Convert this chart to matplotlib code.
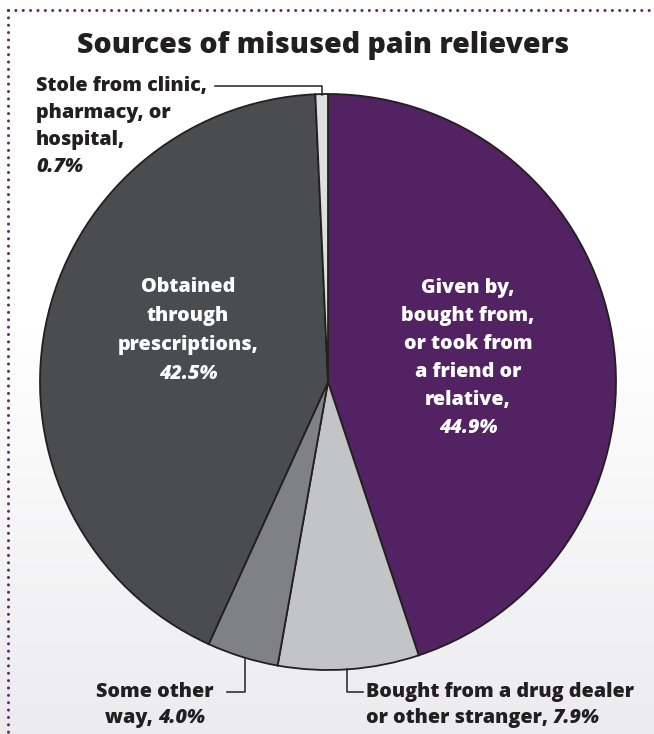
import numpy as np
import matplotlib
matplotlib.use("Agg")
import matplotlib.pyplot as plt

# data, clockwise from 12 o'clock
sources = ["Given by, bought from, or took from a friend or relative",
           "Bought from a drug dealer or other stranger",
           "Some other way",
           "Obtained through prescriptions",
           "Stole from clinic, pharmacy, or hospital"]
shares = [44.9, 7.9, 4.0, 42.5, 0.7]
slice_colors = ["#532262", "#c3c4c6", "#808184", "#4b4c4e", "#dedfe1"]
title = "Sources of misused pain relievers"

W, H = 654, 734
FONT = "Open Sans"
WEIGHT = 800
TXT = "#231f20"

fig = plt.figure(figsize=(W / 100, H / 100), dpi=100)
ax = fig.add_axes([0, 0, 1, 1])
ax.set_xlim(0, W)
ax.set_ylim(0, H)
ax.set_aspect("equal")
ax.axis("off")


def Y(y):
    # image pixel row -> data y
    return H - y


# background: white fading to light grey at bottom
grad = np.linspace(0, 1, 256).reshape(-1, 1)
grad = np.clip((grad - 0.45) / 0.55, 0, 1)
top = np.array([1.0, 1.0, 1.0])
bot = np.array([0.925, 0.925, 0.935])
img = top + (bot - top) * grad[..., None]
ax.imshow(img, extent=[0, W, 0, H], origin="upper", aspect="auto", zorder=0)

# dotted frame (top and left)
dot = dict(color="#5b2b6c", linewidth=2.2, linestyle=(0, (0.01, 2.4)),
           dash_capstyle="round", zorder=1)
ax.plot([8, W], [Y(10), Y(10)], **dot)
ax.plot([8, 8], [Y(10), 0], **dot)

# pie
cx, cy, r = 328, 382, 288
ax.pie(shares, colors=slice_colors, startangle=90, counterclock=False,
       center=(cx, Y(cy)), radius=r, frame=True,
       wedgeprops=dict(edgecolor=TXT, linewidth=1.3))
ax.set_xlim(0, W)
ax.set_ylim(0, H)
ax.axis("off")

ax.text(cx - 5, Y(45), title, ha="center", va="center", fontsize=20.5,
        fontweight=WEIGHT, family=FONT, color=TXT)

fig.canvas.draw()
renderer = fig.canvas.get_renderer()


def width_of(s, size, italic):
    t = ax.text(0, 0, s, fontsize=size, fontweight=WEIGHT, family=FONT,
                style="italic" if italic else "normal")
    w = t.get_window_extent(renderer).width
    t.remove()
    return w


def line(x, y, parts, size, color, ha="left"):
    widths = [width_of(s, size, it) for s, it in parts]
    total = sum(widths)
    if ha == "center":
        x0 = x - total / 2
    elif ha == "right":
        x0 = x - total
    else:
        x0 = x
    for (s, it), w in zip(parts, widths):
        ax.text(x0, Y(y), s, fontsize=size, fontweight=WEIGHT, family=FONT,
                style="italic" if it else "normal", color=color,
                ha="left", va="center")
        x0 += w


FS = 14.2
# inside labels
given = [[("Given by,", False)], [("bought from,", False)],
         [("or took from", False)], [("a friend or", False)],
         [("relative,", False)], [("44.9%", True)]]
for i, parts in enumerate(given):
    line(468, 288 + i * 28, parts, FS, "white", ha="center")

obtained = [[("Obtained", False)], [("through", False)],
            [("prescriptions,", False)], [("42.5%", True)]]
for i, parts in enumerate(obtained):
    line(188, 287 + i * 29, parts, FS, "white", ha="center")

# outside labels
stole = [[("Stole from clinic,", False)], [("pharmacy, or", False)],
         [("hospital,", False)], [("0.7%", True)]]
for i, parts in enumerate(stole):
    line(36, 86 + i * 27, parts, FS, TXT)

line(155, 692, [("Some other", False)], FS, TXT, ha="center")
line(155, 718, [("way, ", False), ("4.0%", True)], FS, TXT, ha="center")

line(366, 692, [("Bought from a drug dealer", False)], FS, TXT)
line(366, 718, [("or other stranger, ", False), ("7.9%", True)], FS, TXT)

# leader lines
lk = dict(color=TXT, linewidth=1.1, zorder=5)
ax.plot([215, 322, 322], [Y(86), Y(86), Y(95)], **lk)
ax.plot([227, 245, 245], [Y(692), Y(692), Y(659)], **lk)
ax.plot([347, 347, 363], [Y(669), Y(692), Y(692)], **lk)

fig.savefig("out.png", dpi=100)
